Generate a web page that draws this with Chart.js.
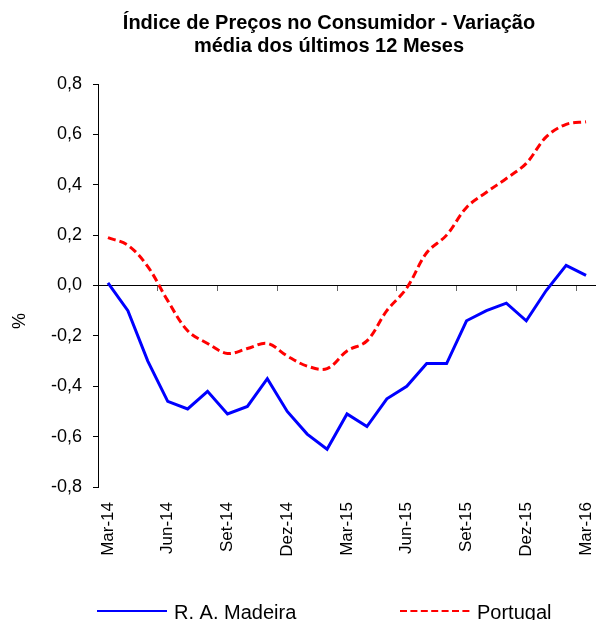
<!DOCTYPE html>
<html>
<head>
<meta charset="utf-8">
<script src="https://cdn.jsdelivr.net/npm/chart.js@4.4.1/dist/chart.umd.min.js"></script>
<style>
  html, body { margin: 0; padding: 0; background: #fff; }
  #c { display: block; }
</style>
</head>
<body>
<canvas id="c" width="596" height="620"></canvas>
<script>
// ---- data ----
const months = ['Mar-14','Abr-14','Mai-14','Jun-14','Jul-14','Ago-14','Set-14','Out-14','Nov-14','Dez-14',
                'Jan-15','Fev-15','Mar-15','Abr-15','Mai-15','Jun-15','Jul-15','Ago-15','Set-15','Out-15',
                'Nov-15','Dez-15','Jan-16','Fev-16','Mar-16'];
const madeira = [0.01, -0.10, -0.30, -0.46, -0.49, -0.42, -0.51, -0.48, -0.37, -0.50,
                 -0.59, -0.65, -0.51, -0.56, -0.45, -0.40, -0.31, -0.31, -0.14, -0.10,
                 -0.07, -0.14, -0.02, 0.08, 0.04];
const portugal = [0.19, 0.16, 0.075, -0.06, -0.18, -0.23, -0.27, -0.25, -0.23, -0.28,
                  -0.32, -0.33, -0.26, -0.22, -0.10, -0.01, 0.13, 0.20, 0.31, 0.37,
                  0.425, 0.485, 0.59, 0.64, 0.65];
const seriesNames = ['R. A. Madeira', 'Portugal'];
const titleLines = ['Índice de Preços no Consumidor - Variação', 'média dos últimos 12 Meses'];
const yTitle = '%';
const yMin = -0.8, yMax = 0.8, yStep = 0.2;

const FONT = '"Liberation Sans", Arial, Helvetica, sans-serif';

const textPlugin = {
  id: 'textPlugin',
  afterDraw(chart) {
    const ctx = chart.ctx;
    ctx.save();
    ctx.fillStyle = '#000';
    ctx.textAlign = 'center';
    ctx.textBaseline = 'middle';
    ctx.font = 'bold 20px ' + FONT;
    titleLines.forEach((t, i) => ctx.fillText(t, 329, 23 + i * 23));
    ctx.restore();

    ctx.save();
    ctx.fillStyle = '#000';
    ctx.translate(20, 321);
    ctx.rotate(-Math.PI / 2);
    ctx.textAlign = 'center';
    ctx.textBaseline = 'middle';
    ctx.font = '18px ' + FONT;
    ctx.fillText(yTitle, 0, 0);
    ctx.restore();

    // legend
    const lx = [97, 400];
    const ly = 611;
    chart.data.datasets.forEach((ds, i) => {
      ctx.save();
      ctx.strokeStyle = ds.borderColor;
      ctx.lineWidth = 2;
      ctx.setLineDash(ds.borderDash ? [7, 3.4] : []);
      ctx.beginPath();
      ctx.moveTo(lx[i], ly);
      ctx.lineTo(lx[i] + 70, ly);
      ctx.stroke();
      ctx.fillStyle = '#000';
      ctx.font = '20px ' + FONT;
      ctx.textAlign = 'left';
      ctx.textBaseline = 'alphabetic';
      ctx.fillText(ds.label, lx[i] + 77, 619);
      ctx.restore();
    });
  }
};

new Chart(document.getElementById('c'), {
  type: 'line',
  data: {
    labels: months,
    datasets: [
      { label: seriesNames[0], data: madeira, borderColor: '#0000FF', borderWidth: 3,
        pointRadius: 0, tension: 0, fill: false },
      { label: seriesNames[1], data: portugal, borderColor: '#FF0000', borderWidth: 3,
        borderDash: [8, 4], pointRadius: 0, tension: 0.35, fill: false }
    ]
  },
  options: {
    responsive: false,
    animation: false,
    devicePixelRatio: 1,
    layout: { padding: { top: 84, left: 0, right: 0, bottom: 0 } },
    plugins: {
      legend: { display: false },
      title: { display: false },
      tooltip: { enabled: false }
    },
    scales: {
      x: {
        type: 'category',
        offset: true,
        grid: { display: false, drawTicks: false },
        border: { display: false },
        ticks: {
          autoSkip: false, maxRotation: 90, minRotation: 90, padding: 15,
          color: '#000', font: { family: FONT, size: 17 },
          callback: function (v, i) { return i % 3 === 0 ? this.getLabelForValue(v) : ''; }
        },
        afterFit(s) { s.height = 133; s.paddingLeft = 0; s.paddingRight = 0; }
      },
      x0: {
        type: 'category',
        offset: true,
        position: { y: 0 },
        grid: {
          display: true, drawOnChartArea: false, drawTicks: true, tickLength: 5, offset: true,
          color: (c) => (c.index !== undefined && c.index % 3 === 0) ? '#666' : 'rgba(0,0,0,0)'
        },
        border: { display: false },
        ticks: { display: false }
      },
      y: {
        min: yMin, max: yMax,
        ticks: {
          stepSize: yStep, padding: 11, color: '#000', font: { family: FONT, size: 18 },
          callback: (v) => v.toFixed(1).replace('.', ',')
        },
        grid: {
          drawOnChartArea: true, tickLength: 5, tickColor: '#000',
          color: (c) => (c.tick && Math.abs(c.tick.value) < 1e-9) ? '#000' : 'rgba(0,0,0,0)'
        },
        border: { display: true, color: '#000', width: 1 },
        afterFit(s) { s.width = 98; }
      }
    }
  },
  plugins: [textPlugin]
});
</script>
</body>
</html>
